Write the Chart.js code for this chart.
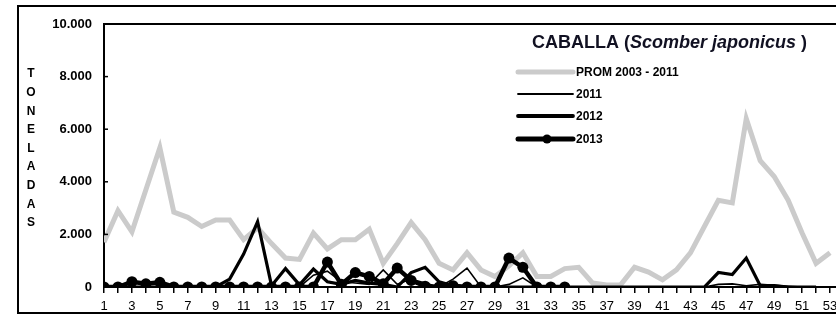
<!DOCTYPE html>
<html>
<head>
<meta charset="utf-8">
<script src="https://cdn.jsdelivr.net/npm/chart.js@4.4.0/dist/chart.umd.min.js"></script>
<style>
  html, body { margin: 0; padding: 0; background: #fff; overflow: hidden; }
  #wrap { width: 850px; height: 315px; }
</style>
</head>
<body>
<div id="wrap"><canvas id="c" width="850" height="315"></canvas></div>
<script>
// ---- data (tonnes per week) ----
const weeks = Array.from({length: 53}, (_, i) => i + 1);
const seriesNames = ['PROM 2003 - 2011', '2011', '2012', '2013'];
const prom = [1700, 2900, 2100, 3700, 5300, 2850, 2650, 2300, 2550, 2550,
              1800, 2250, 1650, 1100, 1050, 2050, 1450, 1800, 1800, 2200,
              900, 1650, 2450, 1800, 900, 650, 1300, 650, 400, 800,
              1300, 400, 400, 700, 750, 150, 80, 80, 750, 570,
              270, 650, 1300, 2300, 3300, 3200, 6400, 4800, 4200, 3300,
              2050, 900, 1300];
const y2011 = [0, 0, 0, 0, 0, 0, 0, 0, 0, 0,
               0, 0, 0, 0, 0, 450, 600, 200, 150, 100,
               650, 100, 300, 150, 0, 300, 720, 0, 0, 100,
               350, 0, 0, 0, 0, 0, 0, 0, 0, 0,
               0, 0, 0, 0, 100, 120, 50, 100, 60, 30,
               0, 0, null];
const y2012 = [0, 0, 0, 0, 0, 0, 0, 0, 0, 300,
               1250, 2480, 50, 700, 80, 680, 200, 100, 250, 150,
               100, 0, 550, 750, 200, 50, 0, 0, 0, 0,
               0, 0, 0, 0, 0, 0, 0, 0, 0, 0,
               0, 0, 0, 0, 550, 470, 1100, 50, 50, 0,
               0, 0, null];
const y2013 = [0, 0, 200, 120, 180, 0, 0, 0, 0, 0,
               0, 0, 0, 0, 0, 0, 950, 100, 550, 400,
               120, 720, 250, 30, 0, 50, 0, 0, 0, 1100,
               750, 0, 0, 0];
const yTickValues = [0, 2000, 4000, 6000, 8000, 10000];
const yTickLabels = ['0', '2.000', '4.000', '6.000', '8.000', '10.000'];
const yTitle = 'TONELADAS';
const titleParts = [['CABALLA (', 'bold'], ['Scomber japonicus', 'italic bold'], [' )', 'bold']];

const FONT = '"Liberation Sans", Arial, sans-serif';
const GRAY = '#cbcbcb';

const toXY = arr => arr.map((v, i) => ({x: weeks[i], y: v}));

const datasets = [
  {label: seriesNames[0], data: toXY(prom), borderColor: GRAY, borderWidth: 5, pointRadius: 0, order: 4, _leg: {w: 5, dot: false, color: GRAY}},
  {label: seriesNames[1], data: toXY(y2011), borderColor: '#000', borderWidth: 1.6, pointRadius: 0, order: 3, _leg: {w: 1.8, dot: false, color: '#000'}},
  {label: seriesNames[2], data: toXY(y2012), borderColor: '#000', borderWidth: 3.2, pointRadius: 0, order: 2, _leg: {w: 3.8, dot: false, color: '#000'}},
  {label: seriesNames[3], data: toXY(y2013), borderColor: '#000', borderWidth: 4.5, pointRadius: 5.5, pointBackgroundColor: '#000', pointBorderColor: '#000', pointBorderWidth: 0, order: 1, _leg: {w: 5, dot: true, color: '#000'}}
];

const decor = {
  id: 'decor',
  afterDraw(chart) {
    const ctx = chart.ctx;
    const ca = chart.chartArea;
    const ys = chart.scales.y;
    const W = chart.width;
    ctx.save();
    // outer frame
    ctx.strokeStyle = '#000';
    ctx.lineWidth = 2;
    ctx.beginPath();
    ctx.moveTo(W + 5, 6); ctx.lineTo(18, 6); ctx.lineTo(18, 313); ctx.lineTo(W + 5, 313);
    ctx.stroke();
    // plot area top border
    ctx.beginPath();
    ctx.moveTo(ca.left - 1, ca.top); ctx.lineTo(W + 5, ca.top);
    ctx.stroke();
    // inner y tick marks
    ctx.lineWidth = 1.5;
    yTickValues.forEach(v => {
      const py = ys.getPixelForValue(v);
      ctx.beginPath(); ctx.moveTo(ca.left, py); ctx.lineTo(ca.left + 4, py); ctx.stroke();
    });
    // vertical stacked axis title
    ctx.fillStyle = '#000';
    ctx.font = 'bold 12px ' + FONT;
    ctx.textAlign = 'center';
    ctx.textBaseline = 'middle';
    yTitle.split('').forEach((ch, i) => ctx.fillText(ch, 31, 74 + i * 18.6));
    // chart title
    ctx.textAlign = 'left';
    ctx.fillStyle = '#111122';
    let tx = 532;
    titleParts.forEach(([txt, style]) => {
      ctx.font = style + ' 18px ' + FONT;
      ctx.fillText(txt, tx, 43);
      tx += ctx.measureText(txt).width;
    });
    // legend
    const legY = [72, 94, 116, 139];
    chart.data.datasets.forEach((ds, i) => {
      const y = legY[i];
      const lg = ds._leg;
      ctx.strokeStyle = lg.color;
      ctx.lineWidth = lg.w;
      ctx.lineCap = 'round';
      ctx.beginPath(); ctx.moveTo(518, y); ctx.lineTo(573, y); ctx.stroke();
      if (lg.dot) {
        ctx.fillStyle = '#000';
        ctx.beginPath(); ctx.arc(547, y, 4.5, 0, Math.PI * 2); ctx.fill();
      }
      ctx.fillStyle = '#000';
      ctx.font = 'bold 12px ' + FONT;
      ctx.textBaseline = 'middle';
      ctx.fillText(ds.label, 576, y + 1);
    });
    ctx.restore();
  }
};

new Chart(document.getElementById('c'), {
  type: 'line',
  data: {datasets},
  options: {
    responsive: false,
    animation: false,
    devicePixelRatio: 1,
    spanGaps: false,
    layout: {padding: {top: 24, left: 0, right: 4, bottom: 0}},
    plugins: {legend: {display: false}, title: {display: false}, tooltip: {enabled: false}},
    elements: {line: {tension: 0, borderJoinStyle: 'miter'}},
    scales: {
      x: {
        type: 'linear', min: 1, max: 54,
        afterFit(s) { s.height = 28; },
        afterBuildTicks(s) { s.ticks = weeks.concat([54]).map(v => ({value: v})); },
        ticks: {
          autoSkip: false, maxRotation: 0, padding: 6,
          color: '#000', font: {family: FONT, size: 13},
          callback: v => (v % 2 === 1 && v <= 53) ? String(v) : ''
        },
        grid: {drawOnChartArea: false, drawTicks: true, tickLength: 6, color: '#000', lineWidth: 1.5},
        border: {display: true, color: '#000', width: 2}
      },
      y: {
        min: 0, max: 10000,
        afterFit(s) { s.width = 104; },
        afterBuildTicks(s) { s.ticks = yTickValues.map(v => ({value: v})); },
        ticks: {
          padding: 12, color: '#000', font: {family: FONT, size: 13, weight: 'bold'},
          callback: v => yTickLabels[yTickValues.indexOf(v)]
        },
        grid: {drawOnChartArea: false, drawTicks: false},
        border: {display: true, color: '#000', width: 2}
      }
    }
  },
  plugins: [decor]
});
</script>
</body>
</html>
